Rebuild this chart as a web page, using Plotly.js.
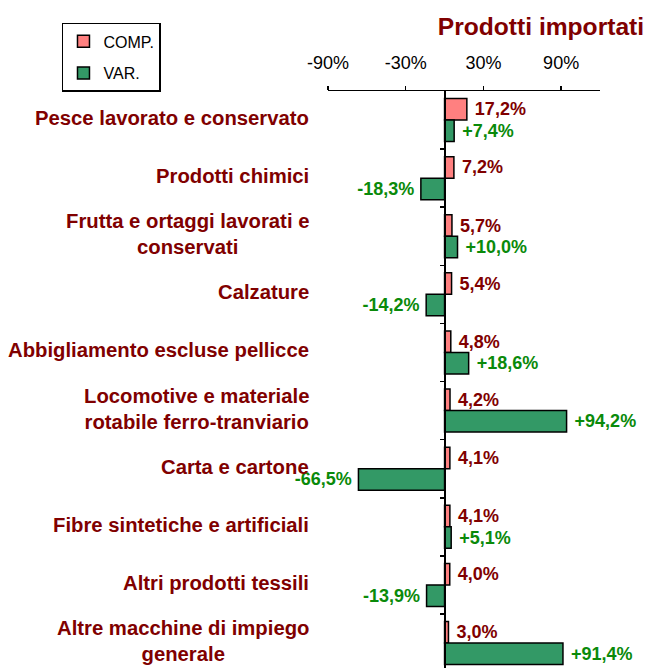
<!DOCTYPE html>
<html>
<head>
<meta charset="utf-8">
<script src="https://cdn.plot.ly/plotly-3.0.1.min.js"></script>
<style>html,body{margin:0;padding:0;background:#fff;}#chart{width:648px;height:668px;}</style>
</head>
<body>
<div id="chart"></div>
<script>
// Data (top to bottom)
const categories = [
  "Pesce lavorato e conservato",
  "Prodotti chimici",
  "Frutta e ortaggi lavorati e<br>conservati",
  "Calzature",
  "Abbigliamento escluse pellicce",
  "Locomotive e materiale<br>rotabile ferro-tranviario",
  "Carta e cartone",
  "Fibre sintetiche e artificiali",
  "Altri prodotti tessili",
  "Altre macchine di impiego<br>generale"
];
const compValues = [17.2, 7.2, 5.7, 5.4, 4.8, 4.2, 4.1, 4.1, 4.0, 3.0];
const varValues  = [7.4, -18.3, 10.0, -14.2, 18.6, 94.2, -66.5, 5.1, -13.9, 91.4];
const xTickVals  = [-90, -30, 30, 90];
const xTickText  = ["-90%", "-30%", "30%", "90%"];
const seriesNames = ["COMP.", "VAR."];

const idx = categories.map((c, i) => i);
const fmt = v => v.toFixed(1).replace('.', ',') + '%';
const NB = '\u00A0';
const compText = compValues.map(v => NB + fmt(v));
const varText = varValues.map(v => v > 0 ? NB + '+' + fmt(v) : fmt(v) + '\u2009');

const FONT = "Liberation Sans, Arial, sans-serif";
const DARKRED = "#800000";
const GREEN = "#0a8a0a";

const traces = [
  {
    type: 'bar', orientation: 'h', name: seriesNames[0], legendgroup: 'a',
    x: compValues, y: idx, text: compText, textposition: 'outside',
    constraintext: 'none', cliponaxis: false,
    textfont: {family: FONT, size: 18, color: DARKRED, weight: 'bold'},
    marker: {color: '#FF8080', line: {color: '#000', width: 1.5}},
    hoverinfo: 'x'
  },
  {
    type: 'bar', orientation: 'h', name: seriesNames[1], legendgroup: 'b',
    x: varValues, y: idx, text: varText, textposition: 'outside',
    constraintext: 'none', cliponaxis: false,
    textfont: {family: FONT, size: 18, color: GREEN, weight: 'bold'},
    marker: {color: '#339966', line: {color: '#000', width: 1.5}},
    hoverinfo: 'x'
  }
];

const annotations = categories.map((c, i) => ({
  xref: 'paper', yref: 'y', x: 0, y: i, xanchor: 'right', yanchor: 'middle',
  xshift: -17, yshift: 2, align: 'center', showarrow: false, text: c,
  font: {family: FONT, size: 20.3, color: DARKRED, weight: 'bold'}
}));

const layout = {
  width: 648, height: 668,
  margin: {l: 328, r: 48, t: 91, b: 0, pad: 0},
  paper_bgcolor: '#fff', plot_bgcolor: '#fff',
  font: {family: FONT, color: '#000'},
  barmode: 'group', bargap: 0.26, bargroupgap: 0,
  title: {
    text: 'Prodotti importati', xref: 'container', yref: 'container',
    x: 0.994, xanchor: 'right', y: 0.96, yanchor: 'middle',
    font: {family: FONT, size: 24.6, color: DARKRED, weight: 'bold'}
  },
  xaxis: {
    side: 'top', range: [-90, 120], fixedrange: true,
    tickvals: xTickVals, ticktext: xTickText,
    showline: true, linecolor: '#000', linewidth: 1.5,
    ticks: 'outside', ticklen: 4, tickwidth: 1.5, tickcolor: '#000',
    ticklabelstandoff: 9,
    tickfont: {family: FONT, size: 18, color: '#000'},
    showgrid: false, zeroline: false
  },
  yaxis: {
    range: [9.43, -0.5], fixedrange: true,
    anchor: 'free', position: 90 / 210,
    showline: true, linecolor: '#000', linewidth: 2,
    ticks: 'outside', ticklen: 4, tickwidth: 1.5, tickcolor: '#000',
    tickvals: [0.5, 1.5, 2.5, 3.5, 4.5, 5.5, 6.5, 7.5, 8.5],
    showticklabels: false, showgrid: false, zeroline: false
  },
  showlegend: true,
  legend: {
    x: -0.978, y: 1.118, xanchor: 'left', yanchor: 'top',
    xref: 'paper', yref: 'paper',
    bordercolor: '#000', borderwidth: 1.5, bgcolor: '#fff',
    font: {family: FONT, size: 16, color: '#000'},
    traceorder: 'grouped', tracegroupgap: 8, itemwidth: 30
  },
  annotations: annotations
};

Plotly.newPlot('chart', traces, layout, {displayModeBar: false, staticPlot: true});
</script>
</body>
</html>
